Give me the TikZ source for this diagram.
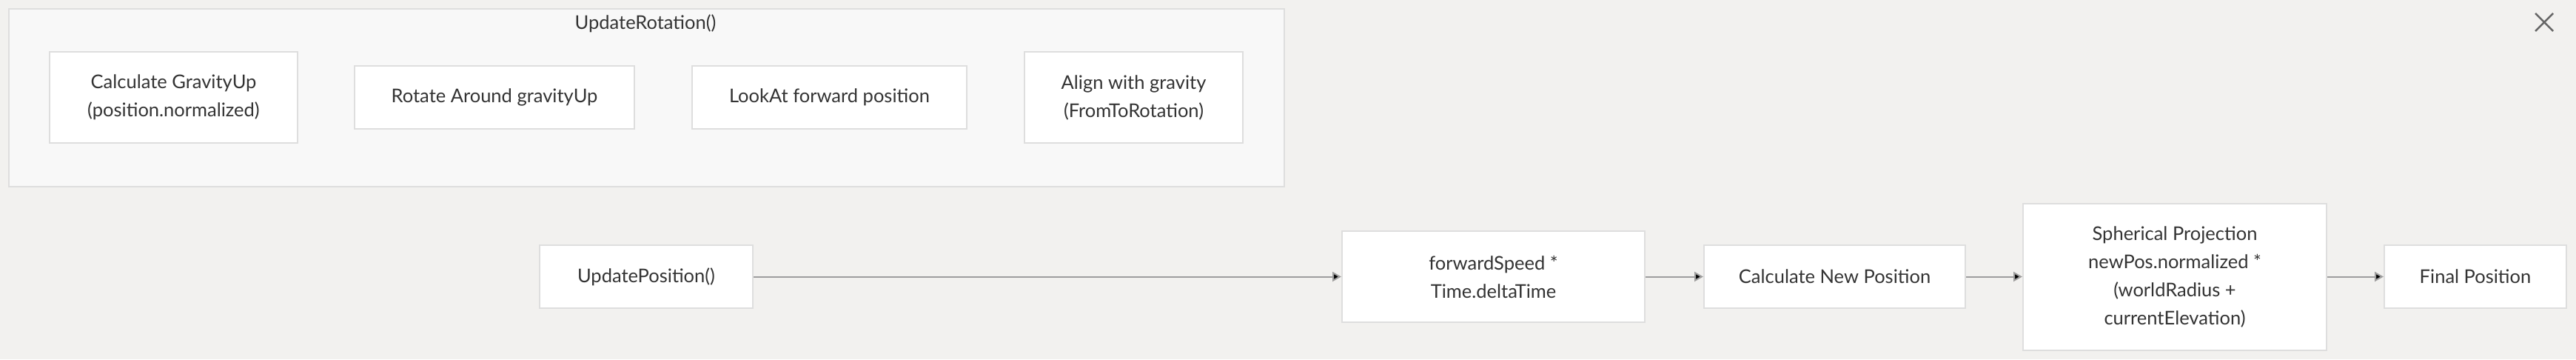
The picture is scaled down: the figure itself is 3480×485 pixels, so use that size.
\documentclass[tikz,border=0pt]{standalone}
\usepackage{fontspec}
\setmainfont{Lato}
\usetikzlibrary{arrows.meta}
\definecolor{canvas}{HTML}{F2F1EF}
\definecolor{groupfill}{HTML}{F8F8F8}
\definecolor{boxline}{HTML}{DEDEDE}
\definecolor{ink}{HTML}{333333}
\definecolor{arrowgray}{HTML}{9E9E9E}
\definecolor{closegray}{HTML}{666666}
\begin{document}
\begin{tikzpicture}[x=1pt,y=-1pt]
  \tikzset{stepbox/.style={draw=boxline, fill=white, line width=2pt, inner sep=0pt, align=center, text=ink, font=\fontsize{25.5}{38}\selectfont},
           groupbox/.style={draw=boxline, fill=groupfill, line width=2pt, inner sep=0pt},
           flow/.style={draw=arrowgray, line width=2pt, -{Triangle[length=12pt,width=13pt]}}}
  \useasboundingbox[fill=canvas] (0,0) rectangle (3480,485);

  % UpdateRotation() group
  \node[groupbox, minimum width=1723, minimum height=240] at (873.5,132) (rot) {};
  \node[text=ink, font=\fontsize{25.5}{38}\selectfont] at (872,32) (rottitle) {UpdateRotation()};
  \node[stepbox, minimum width=335, minimum height=123] at (234.5,131.5) (grav) {Calculate GravityUp\\(position.normalized)};
  \node[stepbox, minimum width=378, minimum height=85] at (668,131.5) (turn) {Rotate Around gravityUp};
  \node[stepbox, minimum width=371, minimum height=85] at (1120.5,131.5) (look) {LookAt forward position};
  \node[stepbox, minimum width=295, minimum height=123] at (1531.5,131.5) (align) {Align with gravity\\(FromToRotation)};

  % UpdatePosition() chain
  \node[stepbox, minimum width=288, minimum height=85] at (873,373.5) (updpos) {UpdatePosition()};
  \node[stepbox, minimum width=409, minimum height=123] at (2017.5,373.5) (speed) {forwardSpeed *\\Time.deltaTime};
  \node[stepbox, minimum width=353, minimum height=85] at (2478.5,373.5) (newpos) {Calculate New Position};
  \node[stepbox, minimum width=410, minimum height=198] at (2938,373.5) (sphere) {Spherical Projection\\newPos.normalized *\\(worldRadius +\\currentElevation)};
  \node[stepbox, minimum width=246, minimum height=85] at (3344,373.5) (final) {Final Position};

  \path[flow] (updpos) edge (speed);
  \path[flow] (speed) edge (newpos);
  \path[flow] (newpos) edge (sphere);
  \path[flow] (sphere) edge (final);

  % close mark
  \coordinate (xa) at (3425,18);
  \coordinate (xb) at (3449,42);
  \coordinate (xc) at (3449,18);
  \coordinate (xd) at (3425,42);
  \draw[closegray, line width=2.5pt] (xa) -- (xb) (xc) -- (xd);
\end{tikzpicture}
\end{document}
